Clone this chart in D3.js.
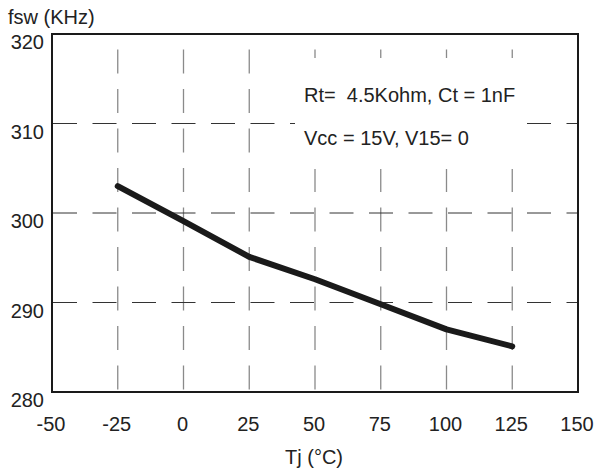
<!DOCTYPE html>
<html>
<head>
<meta charset="utf-8">
<script src="https://cdn.jsdelivr.net/npm/d3@7"></script>
<style>
  body { margin: 0; background: #fff; }
  text { font-family: "Liberation Sans", Arial, sans-serif; fill: #222; white-space: pre; }
</style>
</head>
<body>
<div id="chart"></div>
<script>
// Dane
const tempC = [-25, 0, 25, 50, 75, 100, 125];
const fswKHz = [303.0, 299.1, 295.1, 292.6, 289.8, 287.0, 285.1];
const xTicks = [-50, -25, 0, 25, 50, 75, 100, 125, 150];
const yTicks = [280, 290, 300, 310, 320];
const noteLines = ["Rt=  4.5Kohm, Ct = 1nF", "Vcc = 15V, V15= 0"];

const W = 598, H = 474;
const margin = { top: 34, right: 20, bottom: 82, left: 52 };
const width = W - margin.left - margin.right;
const height = H - margin.top - margin.bottom;
const fontSize = "20px";

const svg = d3.select("#chart").append("svg")
  .attr("width", W)
  .attr("height", H);

const g = svg.append("g")
  .attr("transform", `translate(${margin.left},${margin.top})`);

const x = d3.scaleLinear().domain([-50, 150]).range([0, width]);
const y = d3.scaleLinear().domain([280, 320]).range([height, 0]);

// Siatka pionowa
g.append("g")
  .selectAll("line")
  .data(xTicks.slice(1, -1))
  .enter().append("line")
  .attr("x1", d => x(d)).attr("x2", d => x(d))
  .attr("y1", 0).attr("y2", height)
  .style("stroke", "#8a8a8a")
  .style("stroke-width", 1.3)
  .style("stroke-dasharray", "24,15.5")
  .style("stroke-dashoffset", 24);

// Siatka pozioma
g.append("g")
  .selectAll("line")
  .data(yTicks.slice(1, -1))
  .enter().append("line")
  .attr("x1", 0).attr("x2", width)
  .attr("y1", d => y(d)).attr("y2", d => y(d))
  .style("stroke", "#333")
  .style("stroke-width", 1)
  .style("stroke-dasharray", "24,15.5")
  .style("stroke-dashoffset", -1);

// Białe tło pod opisem
g.append("rect")
  .attr("x", 243).attr("y", 24)
  .attr("width", 232).attr("height", 111)
  .style("fill", "#fff");

// Opis warunków
g.selectAll("text.note")
  .data(noteLines)
  .enter().append("text")
  .attr("class", "note")
  .attr("x", 252)
  .attr("y", (d, i) => 68 + i * 43)
  .style("font-size", fontSize)
  .text(d => d);

// Ramka
g.append("rect")
  .attr("width", width).attr("height", height)
  .style("fill", "none")
  .style("stroke", "#1a1a1a")
  .style("stroke-width", 2);

// Krzywa
const line = d3.line()
  .x((d, i) => x(tempC[i]))
  .y(d => y(d));

g.append("path")
  .datum(fswKHz)
  .attr("d", line)
  .style("fill", "none")
  .style("stroke", "#1a1a1a")
  .style("stroke-width", 6)
  .style("stroke-linejoin", "round")
  .style("stroke-linecap", "round");

// Etykiety osi Y
g.selectAll("text.ytick")
  .data(yTicks)
  .enter().append("text")
  .attr("class", "ytick")
  .attr("x", -8)
  .attr("y", d => y(d) + 15)
  .attr("text-anchor", "end")
  .style("font-size", fontSize)
  .text(d => d);

// Etykiety osi X
g.selectAll("text.xtick")
  .data(xTicks)
  .enter().append("text")
  .attr("class", "xtick")
  .attr("x", d => x(d) - 1)
  .attr("y", height + 39)
  .attr("text-anchor", "middle")
  .style("font-size", fontSize)
  .text(d => d);

// Tytuły osi
svg.append("text")
  .attr("x", 8)
  .attr("y", 24)
  .style("font-size", fontSize)
  .text("fsw (KHz)");

svg.append("text")
  .attr("x", margin.left + width / 2 - 1)
  .attr("y", 464)
  .attr("text-anchor", "middle")
  .style("font-size", fontSize)
  .text("Tj (°C)");
</script>
</body>
</html>
